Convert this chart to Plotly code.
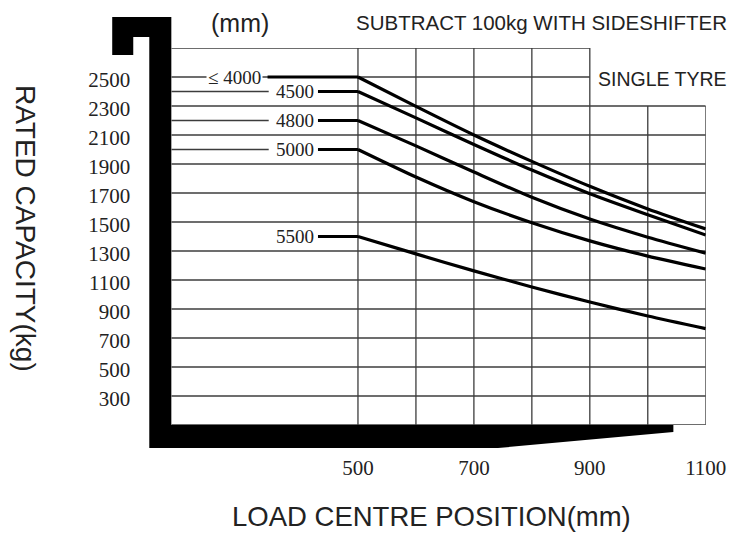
import plotly.graph_objects as go

# ---------------- data ----------------
load_centre = [500, 600, 700, 800, 900, 1000, 1100]          # mm
cap_le4000 = [2500, 2297, 2100, 1918, 1746, 1590, 1452]       # kg
cap_4500 = [2400, 2218, 2035, 1858, 1695, 1550, 1410]
cap_4800 = [2200, 2025, 1845, 1670, 1520, 1395, 1285]
cap_5000 = [2000, 1810, 1640, 1495, 1370, 1265, 1176]
cap_5500 = [1400, 1280, 1163, 1052, 948, 852, 765]
curve_labels = ["\u2264 4000", "4500", "4800", "5000", "5500"]
y_tick_labels = [2500, 2300, 2100, 1900, 1700, 1500, 1300, 1100, 900, 700, 500, 300]
x_tick_labels = [500, 700, 900, 1100]

# ---------------- layout constants ----------------
OFF = 8                      # page body margin
SX = 0.97                    # observed horizontal scale of the photographed page
W, H = 750, 527
X_MIN, X_MAX = 178, 1100
Y_MIN, Y_MAX = 100, 2700
PX_L, PX_R, PX_T, PX_B = 171, 704.3, 48, 425

GRID = "#3c3c3c"
GW = 1.3
SERIF = "Liberation Serif"
SANS = "Liberation Sans"


def fx(r):
    return (r - OFF) / SX


def fy(r):
    return r - OFF


def px(x, y):
    return fx(x) / W, 1 - fy(y) / H


fig = go.Figure()

series = [cap_le4000, cap_4500, cap_4800, cap_5000, cap_5500]
line_start = [344, 431, 431, 431, 431]
label_right = [337, 427, 427, 427, 427]
leader_end = [None, 346, 346, 346, None]

shapes = []
annotations = []

for v in range(Y_MIN, Y_MAX + 1, 200):
    xe = 900 if v >= 2500 else X_MAX
    shapes.append(dict(type="line", xref="x", yref="y", x0=X_MIN, x1=xe, y0=v, y1=v,
                       line=dict(color=GRID, width=GW), layer="below"))
for xv in range(500, X_MAX + 1, 100):
    ye = Y_MAX if xv <= 900 else 2300
    shapes.append(dict(type="line", xref="x", yref="y", x0=xv, x1=xv, y0=Y_MIN, y1=ye,
                       line=dict(color=GRID, width=GW), layer="below"))

for vals, xs, lr, le, lab in zip(series, line_start, label_right, leader_end, curve_labels):
    fig.add_trace(go.Scatter(x=[xs, load_centre[0]], y=[vals[0], vals[0]], mode="lines",
                             line=dict(color="black", width=3.2), showlegend=False, hoverinfo="skip"))
    fig.add_trace(go.Scatter(x=load_centre, y=vals, mode="lines",
                             line=dict(color="black", width=3.2, shape="spline", smoothing=0.7),
                             showlegend=False))
    if le is not None:
        shapes.append(dict(type="line", xref="x", yref="y", x0=X_MIN, x1=le, y0=vals[0], y1=vals[0],
                           line=dict(color=GRID, width=GW), layer="below"))
    annotations.append(dict(x=lr, y=vals[0], xref="x", yref="y", text=lab, showarrow=False,
                            xanchor="right", yanchor="middle",
                            bgcolor="white" if le is None else "rgba(0,0,0,0)",
                            font=dict(family=SERIF, size=19, color="#222")))

pts = [(112, 17), (171, 17), (171, 425), (672, 425), (672, 432), (497, 448), (149, 448),
       (149, 37), (133, 37), (133, 55), (112, 55)]
path = ""
for i, (a, b) in enumerate(pts):
    xx, yy = px(a, b)
    path += ("M" if i == 0 else "L") + f"{xx:.5f},{yy:.5f} "
path += "Z"
shapes.append(dict(type="path", xref="paper", yref="paper", path=path,
                   fillcolor="black", line=dict(width=0)))


def note(text, x, y, size, xanchor="center", yanchor="middle", angle=0, family=SANS):
    xx, yy = px(x, y)
    annotations.append(dict(x=xx, y=yy, xref="paper", yref="paper", text=text, showarrow=False,
                            xanchor=xanchor, yanchor=yanchor, textangle=angle, borderpad=0,
                            font=dict(family=family, size=size, color="#222")))


note("(mm)", 240, 8, 25, yanchor="top")
note("SUBTRACT 100kg WITH SIDESHIFTER", 727, 23, 20.5, xanchor="right")
note("SINGLE TYRE", 727, 79, 19.5, xanchor="right")
note("LOAD CENTRE POSITION(mm)", 431, 516, 27.5)
note("RATED CAPACITY(kg)", 26, 228, 28, angle=90)

fig.update_layout(
    width=W, height=H,
    margin=dict(l=0, r=0, t=0, b=0),
    paper_bgcolor="white", plot_bgcolor="white",
    shapes=shapes, annotations=annotations,
    xaxis=dict(range=[X_MIN, X_MAX], domain=[fx(PX_L) / W, fx(PX_R) / W], showgrid=False,
               zeroline=False, showline=False, tickvals=x_tick_labels, ticks="", ticklabelstandoff=28,
               tickfont=dict(family=SERIF, size=21, color="#222")),
    yaxis=dict(range=[Y_MIN, Y_MAX], domain=[1 - fy(PX_B) / H, 1 - fy(PX_T) / H],
               showgrid=False, zeroline=False, showline=False, tickvals=y_tick_labels, ticks="",
               ticklabelstandoff=40, ticklabelshift=3,
               tickfont=dict(family=SERIF, size=21, color="#222")),
    showlegend=False,
)

fig.write_html("out.html")
